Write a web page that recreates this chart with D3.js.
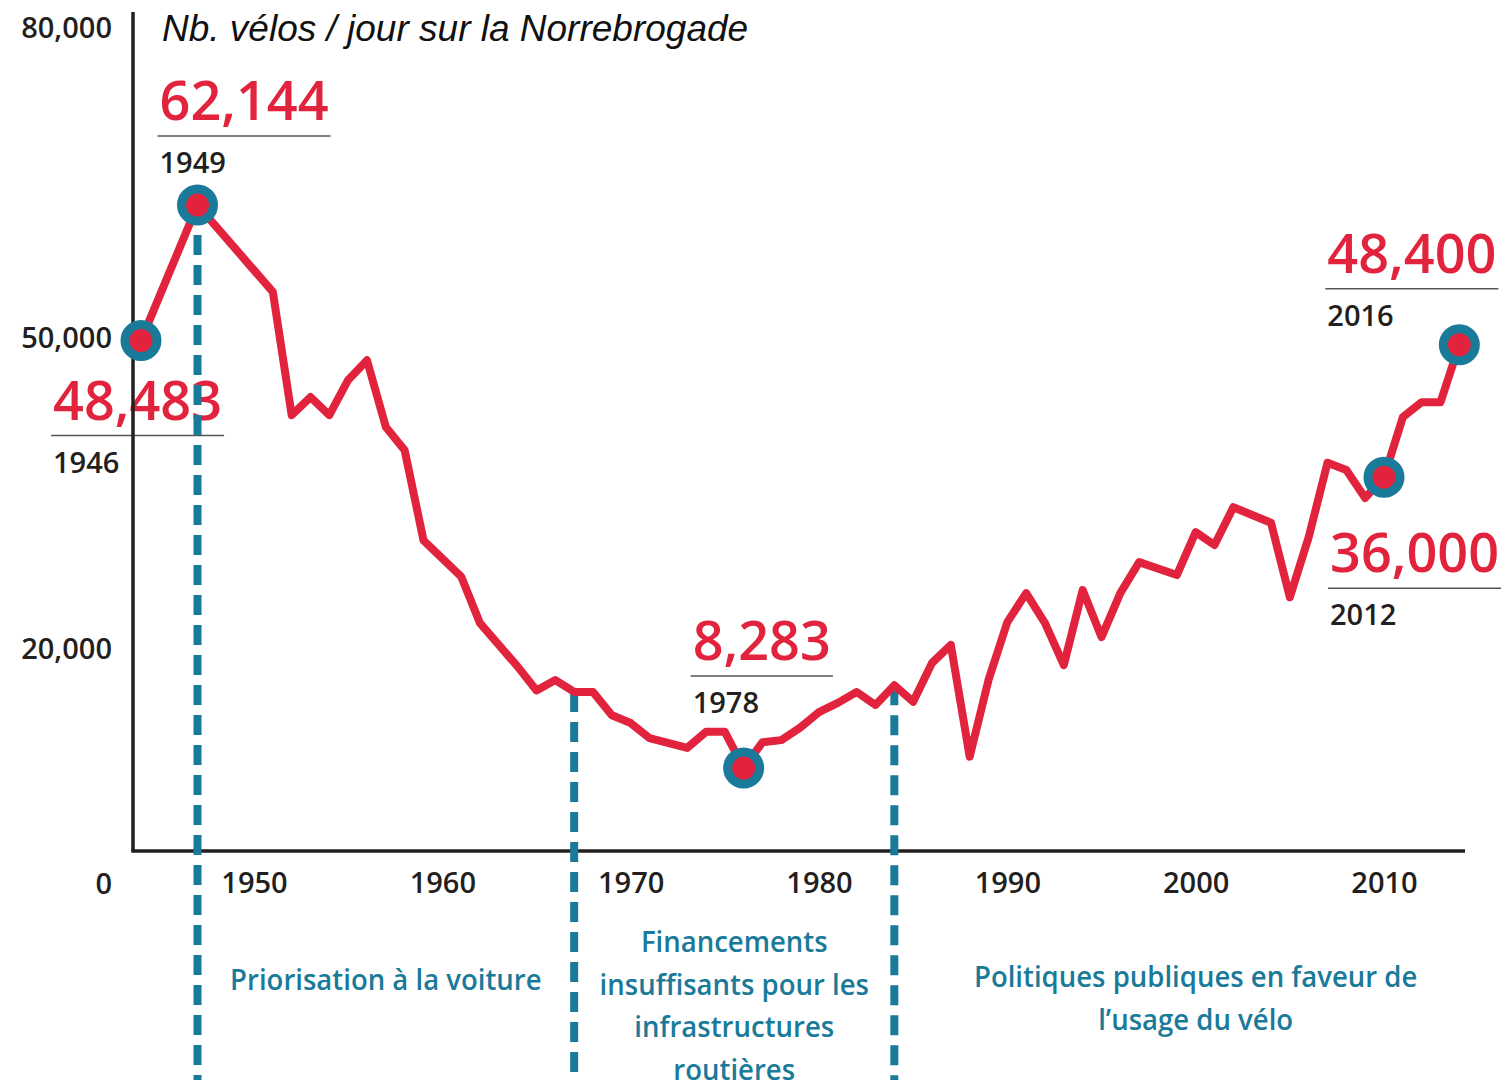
<!DOCTYPE html>
<html>
<head>
<meta charset="utf-8">
<script src="https://cdn.jsdelivr.net/npm/d3@7"></script>
<style>
body { margin: 0; background: #fff; }
svg { display: block; }
</style>
</head>
<body>
<svg></svg>
<script>
var width = 1506, height = 1085;

var years = [1944, 1947, 1951, 1952, 1953, 1954, 1955, 1956, 1957, 1958, 1959,
    1961, 1962, 1964, 1965, 1966, 1967, 1968, 1969, 1970, 1971, 1973, 1974,
    1975, 1976, 1977, 1978, 1979, 1980, 1981, 1982, 1983, 1984, 1985, 1986,
    1987, 1988, 1989, 1990, 1991, 1992, 1993, 1994, 1995, 1996, 1997, 1999,
    2000, 2001, 2002, 2004, 2005, 2006, 2007, 2008, 2009, 2010, 2011, 2012,
    2013, 2014];
var bikes = [49700, 62800, 54400, 42500, 44250, 42500, 45900, 47800, 41350, 39100, 30400,
    26900, 22400, 18200, 15900, 16900, 15750, 15750, 13500, 12750, 11300, 10350, 11900,
    11900, 8400, 10900, 11100, 12300, 13800, 14700, 15750, 14500, 16400, 14800, 18550,
    20300, 9500, 16900, 22500, 25300, 22400, 18350, 25600, 21050, 25300, 28300, 27050,
    31200, 29950, 33600, 32100, 24900, 30700, 37900, 37200, 34500, 36500, 42300, 43750,
    43750, 49300];

var xTicks = [1950, 1960, 1970, 1980, 1990, 2000, 2010];
var yTicks = [0, 20000, 50000, 80000];

// highlighted points: where they sit on the line, and what the labels say
var spotYears = [1944, 1947, 1976, 2010, 2014];
var spotValues = ["48,483", "62,144", "8,283", "36,000", "48,400"];
var spotLabels = ["1946", "1949", "1978", "2012", "2016"];

var periodBreaks = [1947, 1967, 1984, 2016];
var periodTexts = [
    ["Priorisation à la voiture"],
    ["Financements", "insuffisants pour les", "infrastructures", "routières"],
    ["Politiques publiques en faveur de", "l\u2019usage du vélo"]
];

var title = "Nb. vélos / jour sur la Norrebrogade";

// layout
var spotOffsets = [[-88, 79], [-38, -85], [-51, -108], [-54, 95], [-132, -72]];
var periodTop = [990, 952, 987];
var baseY = 851, axisX = 133, axisEnd = 1465;

var red = "#e2233d", teal = "#1a7a99", ink = "#231f20";
var sans = "'Open Sans', 'Noto Sans', sans-serif";

var svg = d3.select("svg")
    .attr("width", width)
    .attr("height", height);

var x = d3.scaleLinear().domain([1950, 2010]).range([254, 1384]);
var y = d3.scaleLinear().domain([0, 80000]).range([855, 27]);

var data = years.map(function(d, i) { return {year: d, value: bikes[i]}; });
var valueAt = new Map(data.map(function(d) { return [d.year, d.value]; }));

// callouts first, the axis lines run over them
var spots = svg.append("g");
spotYears.forEach(function(yr, i) {
    var tx = x(yr) + spotOffsets[i][0],
        ty = y(valueAt.get(yr)) + spotOffsets[i][1];
    var t = spots.append("text")
        .attr("x", tx)
        .attr("y", ty)
        .attr("fill", red)
        .style("font-family", sans)
        .style("font-weight", 600)
        .style("font-size", "54px")
        .text(spotValues[i]);
    var w = t.node().getComputedTextLength();
    spots.append("line")
        .attr("x1", tx - 2)
        .attr("x2", tx + w + 2)
        .attr("y1", ty + 16)
        .attr("y2", ty + 16)
        .attr("stroke", "#555")
        .attr("stroke-width", 1.5);
    spots.append("text")
        .attr("x", tx)
        .attr("y", ty + 53)
        .attr("fill", ink)
        .style("font-family", sans)
        .style("font-weight", 600)
        .style("font-size", "29px")
        .text(spotLabels[i]);
});

// title
svg.append("text")
    .attr("x", 162)
    .attr("y", 41)
    .style("font-family", "'Liberation Sans', Arial, sans-serif")
    .style("font-style", "italic")
    .style("font-size", "37px")
    .attr("fill", "#111")
    .text(title);

// axes
svg.append("line")
    .attr("x1", axisX).attr("x2", axisX)
    .attr("y1", 12).attr("y2", baseY)
    .attr("stroke", ink).attr("stroke-width", 3.5);
svg.append("line")
    .attr("x1", axisX - 1.75).attr("x2", axisEnd)
    .attr("y1", baseY).attr("y2", baseY)
    .attr("stroke", ink).attr("stroke-width", 3.5);

var xAxis = svg.append("g")
    .attr("transform", "translate(0," + baseY + ")")
    .call(d3.axisBottom(x).tickValues(xTicks).tickFormat(d3.format("d")).tickSize(0));
xAxis.select(".domain").remove();
xAxis.selectAll("text")
    .attr("y", 42)
    .attr("dy", null)
    .attr("fill", ink)
    .style("font-family", sans)
    .style("font-weight", 600)
    .style("font-size", "29px");

var yAxis = svg.append("g")
    .attr("transform", "translate(" + axisX + ",0)")
    .call(d3.axisLeft(y).tickValues(yTicks).tickFormat(d3.format(",")).tickSize(0).tickPadding(21));
yAxis.select(".domain").remove();
yAxis.selectAll("text")
    .attr("dy", "0.36em")
    .attr("fill", ink)
    .style("font-family", sans)
    .style("font-weight", 600)
    .style("font-size", "29px");
// the zero sits on the row of years
yAxis.selectAll(".tick").filter(function(d) { return d === 0; }).select("text")
    .attr("y", 38)
    .attr("dy", null);

// period breaks
svg.append("g")
    .selectAll("line")
    .data(periodBreaks.slice(0, 3))
    .join("line")
    .attr("x1", function(d) { return x(d); })
    .attr("x2", function(d) { return x(d); })
    .attr("y1", function(d) { return y(valueAt.get(d)); })
    .attr("y2", 1080)
    .attr("stroke", teal)
    .attr("stroke-width", 8)
    .attr("stroke-dasharray", "20,10");

periodTexts.forEach(function(lines, i) {
    var cx = x((periodBreaks[i] + periodBreaks[i + 1]) / 2);
    lines.forEach(function(s, j) {
        svg.append("text")
            .attr("transform", "translate(" + cx + "," + (periodTop[i] + j * 42.5) + ") scale(0.95,1)")
            .attr("text-anchor", "middle")
            .attr("fill", teal)
            .style("font-family", sans)
            .style("font-weight", 600)
            .style("font-size", "29px")
            .text(s);
    });
});

// the series
svg.append("path")
    .datum(data)
    .attr("fill", "none")
    .attr("stroke", red)
    .attr("stroke-width", 8)
    .attr("stroke-linejoin", "round")
    .attr("d", d3.line()
        .x(function(d) { return x(d.year); })
        .y(function(d) { return y(d.value); }));

svg.append("g")
    .selectAll("circle")
    .data(spotYears)
    .join("circle")
    .attr("cx", function(d) { return x(d); })
    .attr("cy", function(d) { return y(valueAt.get(d)); })
    .attr("r", 16)
    .attr("fill", red)
    .attr("stroke", teal)
    .attr("stroke-width", 9);
</script>
</body>
</html>
